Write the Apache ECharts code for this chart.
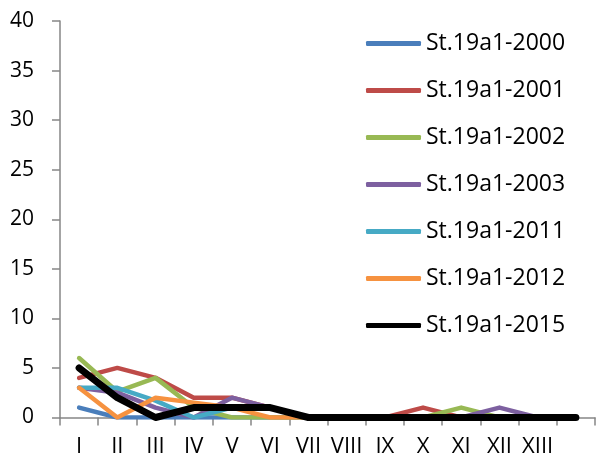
<!DOCTYPE html>
<html>
<head>
<meta charset="utf-8">
<script src="https://cdn.jsdelivr.net/npm/echarts@6/dist/echarts.min.js"></script>
<style>html,body{margin:0;padding:0;background:#fff}#c{width:599px;height:467px}</style>
</head>
<body>
<div id="c"></div>
<script>
var categories = ['I','II','III','IV','V','VI','VII','VIII','IX','X','XI','XII','XIII',''];
var yTicks = [0,5,10,15,20,25,30,35,40];
var seriesNames = ['St.19a1-2000','St.19a1-2001','St.19a1-2002','St.19a1-2003','St.19a1-2011','St.19a1-2012','St.19a1-2015'];
var s2000 = [1,0,0,0,0,0,0,0,0,0,0,0,0,0];
var s2001 = [4,5,4,2,2,1,0,0,0,1,0,0,0,0];
var s2002 = [6,2.6,4,1,0,0,0,0,0,0,1,0,0,0];
var s2003 = [3,2.5,1,0,2,1,0,0,0,0,0,1,0,0];
var s2011 = [3,3,1.7,0,1,1,0,0,0,0,0,0,0,0];
var s2012 = [3,0,2,1.5,1,0,0,0,0,0,0,0,0,0];
var s2015 = [5,2,0,1,1,1,0,0,0,0,0,0,0,0];
var colors = ['#4A7EBB','#BE4B48','#98B954','#7D60A0','#46AAC5','#F69240','#000000'];
var widths = [4.5,4.5,4.5,4.5,4.5,4.5,7];
var allData = [s2000,s2001,s2002,s2003,s2011,s2012,s2015];

var font = '"Open Sans", "Liberation Sans", sans-serif';
var chart = echarts.init(document.getElementById('c'), null, {renderer:'canvas'});
chart.setOption({
  animation: false,
  grid: {left: 60, right: 4, top: 21, bottom: 49.5, containLabel: false},
  legend: {
    orient: 'vertical', left: 361, top: 27, itemGap: 24,
    itemWidth: 55, itemHeight: 5, icon: 'roundRect',
    textStyle: {fontFamily: font, fontSize: 23, color: '#000'},
    data: seriesNames.map(function(n,i){return {name:n, itemStyle:{color:colors[i]}};})
  },
  xAxis: {
    type: 'category', data: categories, boundaryGap: true,
    axisLine: {lineStyle: {color: '#868686', width: 1.5}},
    axisTick: {show: true, length: 8, lineStyle: {color: '#868686', width: 1.5}, alignWithLabel: false},
    axisLabel: {fontFamily: font, fontSize: 22, color: '#000', margin: 18, interval: 0},
    splitLine: {show: false}
  },
  yAxis: {
    type: 'value', min: 0, max: 40, interval: 5,
    axisLine: {show: true, lineStyle: {color: '#868686', width: 1.5}},
    axisTick: {show: true, length: 8, lineStyle: {color: '#868686', width: 1.5}},
    axisLabel: {fontFamily: font, fontSize: 21, color: '#000', margin: 26},
    splitLine: {show: false}
  },
  series: allData.map(function(d,i){
    return {name: seriesNames[i], type: 'line', data: d, symbol: 'none',
      lineStyle: {color: colors[i], width: widths[i], cap: 'round', join: 'round'},
      itemStyle: {color: colors[i]}, z: 2 + i};
  })
});
</script>
</body>
</html>
